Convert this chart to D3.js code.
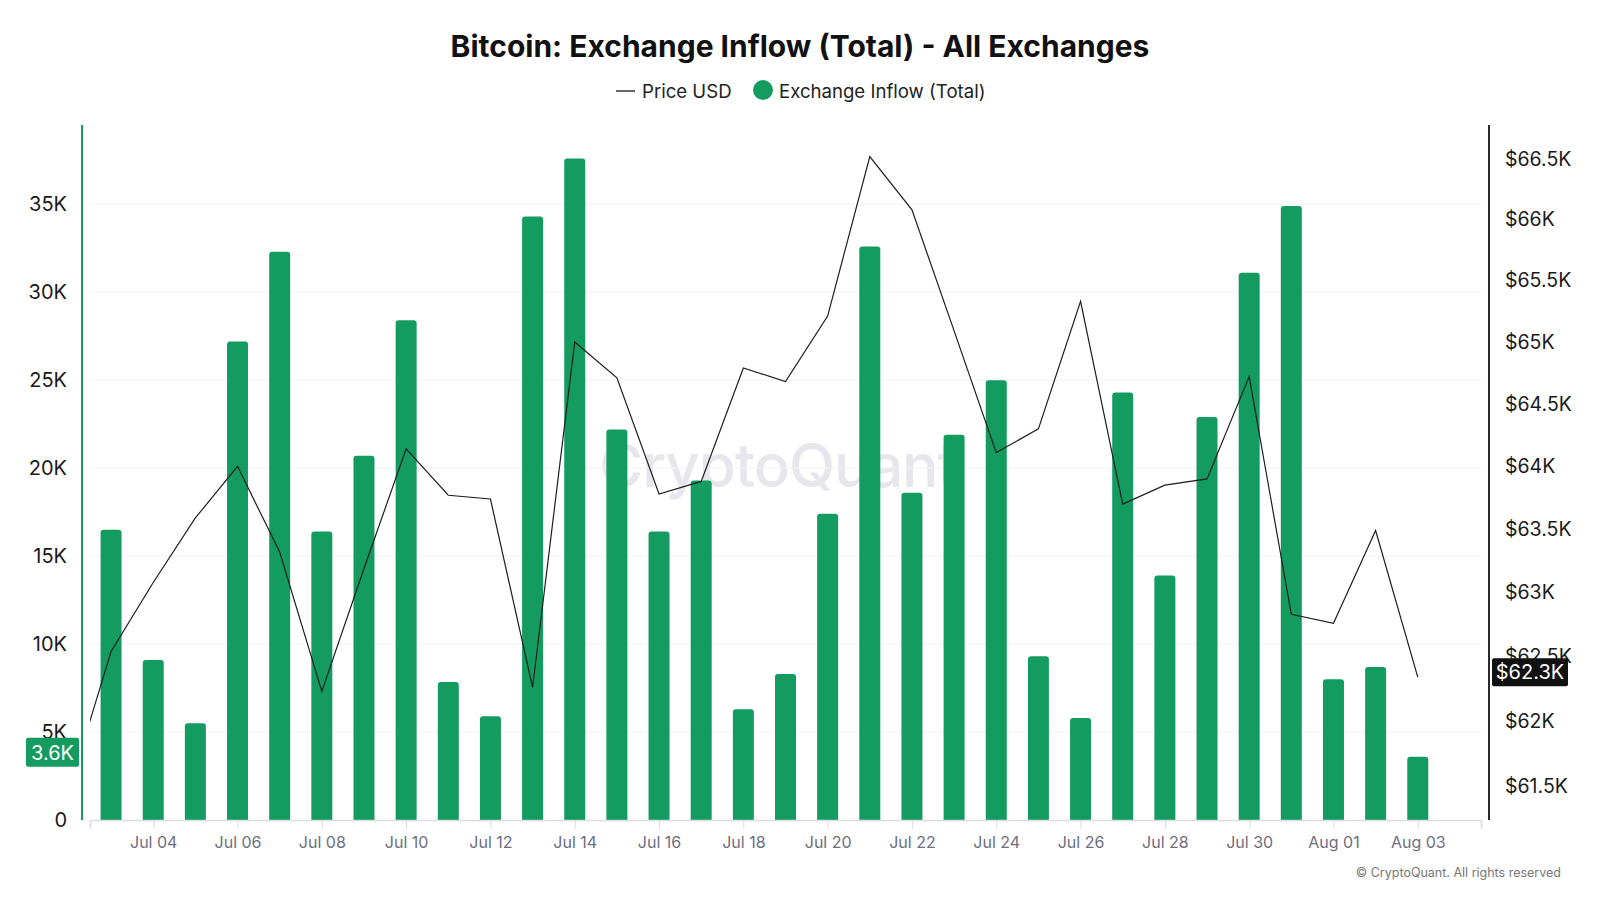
<!DOCTYPE html>
<html>
<head>
<meta charset="utf-8">
<script src="https://cdn.jsdelivr.net/npm/d3@7"></script>
<style>
  html, body { margin: 0; padding: 0; background: #fff; }
  svg { display: block; font-family: Inter, "Noto Sans", sans-serif; }
</style>
</head>
<body>
<svg id="chart" width="1600" height="900"></svg>
<script>
// daily data, Jul 2024
const inflowDays = ["2024-07-03","2024-07-04","2024-07-05","2024-07-06","2024-07-07","2024-07-08","2024-07-09","2024-07-10",
  "2024-07-11","2024-07-12","2024-07-13","2024-07-14","2024-07-15","2024-07-16","2024-07-17","2024-07-18","2024-07-19",
  "2024-07-20","2024-07-21","2024-07-22","2024-07-23","2024-07-24","2024-07-25","2024-07-26","2024-07-27","2024-07-28",
  "2024-07-29","2024-07-30","2024-07-31","2024-08-01","2024-08-02","2024-08-03"];
const inflow = [16500, 9100, 5500, 27200, 32300, 16400, 20700, 28400, 7850, 5900, 34300, 37600, 22200, 16400, 19300, 6300,
  8300, 17400, 32600, 18600, 21900, 25000, 9300, 5800, 24300, 13900, 22900, 31100, 34900, 8000, 8700, 3600];

// price series starts one day earlier (cut at the left edge)
const priceDays = ["2024-07-02"].concat(inflowDays);
const price = [61470, 62540, 63080, 63590, 64000, 63320, 62230, 63190, 64140, 63770, 63740, 62260, 65000, 64710, 63780,
  63880, 64790, 64680, 65210, 66520, 66080, 65090, 64110, 64300, 65330, 63700, 63850, 63900, 64720, 62830, 62760, 63490, 62340];

const leftTicks = [0, 5000, 10000, 15000, 20000, 25000, 30000, 35000];
const rightTicks = [61500, 62000, 62500, 63000, 63500, 64000, 64500, 65000, 65500, 66000, 66500];

const green = "#149b5f";
const parse = d3.utcParse("%Y-%m-%d");
const bars = inflowDays.map((d, i) => ({date: parse(d), value: inflow[i]}));
const pts = priceDays.map((d, i) => ({date: parse(d), value: price[i]}));

const svg = d3.select("#chart");
const plotL = 90, plotR = 1481, plotT = 125, plotB = 820;

const x = d3.scaleUtc()
  .domain([d3.utcHour.offset(parse("2024-07-02"), 12), d3.utcHour.offset(parse("2024-08-04"), 12)])
  .range([plotL, plotR]);
const y = d3.scaleLinear().domain([0, 39500]).range([plotB, plotT]);
const yP = d3.scaleLog().domain([61240, 66782]).range([plotB, plotT]);

// watermark
svg.append("text")
  .attr("x", 778).attr("y", 487)
  .attr("text-anchor", "middle")
  .attr("font-size", 60).attr("font-weight", 500)
  .attr("letter-spacing", -1)
  .attr("fill", "#e6e6ec")
  .text("CryptoQuant");

// grid
svg.append("g").selectAll("line")
  .data(leftTicks.filter(d => d > 0))
  .join("line")
  .attr("x1", plotL).attr("x2", plotR)
  .attr("y1", d => y(d)).attr("y2", d => y(d))
  .attr("stroke", "#f2f2f4");

// bars with rounded tops
const bw = 21, r = 3;
svg.append("g").selectAll("path")
  .data(bars)
  .join("path")
  .attr("fill", green)
  .attr("d", d => {
    const x0 = x(d.date) - bw / 2, y0 = y(d.value), y1 = y(0);
    return `M${x0},${y1}V${y0 + r}Q${x0},${y0} ${x0 + r},${y0}H${x0 + bw - r}Q${x0 + bw},${y0} ${x0 + bw},${y0 + r}V${y1}Z`;
  });

// x axis
const xTicks = bars.filter((d, i) => i % 2 === 1).map(d => d.date);
const xAxis = svg.append("g")
  .attr("transform", `translate(0,${plotB})`)
  .call(d3.axisBottom(x).tickValues(xTicks).tickFormat(d3.utcFormat("%b %d")).tickSize(9).tickPadding(8));
xAxis.select(".domain").attr("stroke", "#dcdce4").attr("stroke-width", 1.5);
xAxis.selectAll(".tick line").attr("stroke", "#dcdce4");
xAxis.selectAll(".tick text").attr("fill", "#6e6e80").attr("font-size", 16).attr("font-family", "Inter, sans-serif");

// left axis
const yAxis = svg.append("g")
  .attr("transform", `translate(82,0)`)
  .call(d3.axisLeft(y).tickValues(leftTicks).tickFormat(d => d === 0 ? "0" : d / 1000 + "K").tickSize(0).tickPadding(15));
yAxis.select(".domain").remove();
yAxis.selectAll(".tick text").attr("fill", "#1a1a1a").attr("font-size", 20).attr("font-family", "Inter, sans-serif");
svg.append("line").attr("x1", 82).attr("x2", 82).attr("y1", plotT).attr("y2", plotB)
  .attr("stroke", green).attr("stroke-width", 2);

// right axis
const pAxis = svg.append("g")
  .attr("transform", `translate(1489,0)`)
  .call(d3.axisRight(yP).tickValues(rightTicks).tickFormat(d => "$" + d / 1000 + "K").tickSize(0).tickPadding(16));
pAxis.select(".domain").remove();
pAxis.selectAll(".tick text").attr("fill", "#1a1a1a").attr("font-size", 19.5).attr("font-family", "Inter, sans-serif");
svg.append("line").attr("x1", 1489).attr("x2", 1489).attr("y1", plotT).attr("y2", plotB)
  .attr("stroke", "#2a2a2a").attr("stroke-width", 2);

// price line
svg.append("clipPath").attr("id", "plot")
  .append("rect").attr("x", plotL).attr("y", 0).attr("width", plotR - plotL).attr("height", 900);
svg.append("path")
  .datum(pts)
  .attr("clip-path", "url(#plot)")
  .attr("fill", "none")
  .attr("stroke", "#1e1e1e")
  .attr("stroke-width", 1.2)
  .attr("d", d3.line().x(d => x(d.date)).y(d => yP(d.value)));

// last value labels
const lastBar = bars[bars.length - 1];
const lastPrice = pts[pts.length - 1];
const fmtK = v => (v / 1000).toFixed(1) + "K";

const lb = svg.append("g").attr("transform", `translate(0,${y(lastBar.value) - 4})`);
lb.append("rect").attr("x", 26).attr("y", -15).attr("width", 53).attr("height", 29).attr("rx", 2).attr("fill", green);
lb.append("text").attr("x", 52.5).attr("y", 0).attr("dy", "0.35em").attr("text-anchor", "middle")
  .attr("fill", "#fff").attr("font-size", 20).text(fmtK(lastBar.value));

const pb = svg.append("g").attr("transform", `translate(0,${yP(lastPrice.value) - 5})`);
pb.append("rect").attr("x", 1492).attr("y", -14).attr("width", 76).attr("height", 28).attr("rx", 2).attr("fill", "#111");
pb.append("text").attr("x", 1530).attr("y", 0).attr("dy", "0.35em").attr("text-anchor", "middle")
  .attr("fill", "#fff").attr("font-size", 20).text("$" + fmtK(lastPrice.value));

// title
svg.append("text")
  .attr("x", 800).attr("y", 57)
  .attr("text-anchor", "middle")
  .attr("font-size", 30).attr("font-weight", 700)
  .attr("fill", "#111")
  .text("Bitcoin: Exchange Inflow (Total) - All Exchanges");

// legend
const lg = svg.append("g").attr("font-size", 18.6).attr("fill", "#222");
lg.append("line").attr("x1", 616).attr("x2", 635).attr("y1", 91).attr("y2", 91).attr("stroke", "#333").attr("stroke-width", 1.5);
lg.append("text").attr("x", 642).attr("y", 91).attr("dy", "0.35em").text("Price USD");
lg.append("circle").attr("cx", 763).attr("cy", 90).attr("r", 10).attr("fill", green);
lg.append("text").attr("x", 779).attr("y", 91).attr("dy", "0.35em").text("Exchange Inflow (Total)");

// credit
svg.append("text")
  .attr("x", 1561).attr("y", 873).attr("dy", "0.35em")
  .attr("text-anchor", "end")
  .attr("font-size", 12.5).attr("fill", "#777")
  .text("© CryptoQuant. All rights reserved");
</script>
</body>
</html>
